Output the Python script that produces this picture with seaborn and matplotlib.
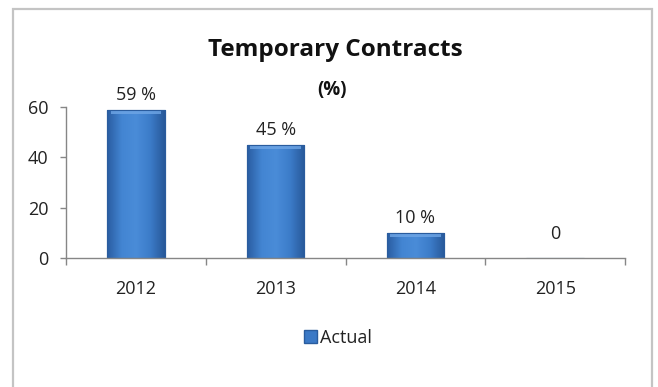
import numpy as np
import pandas as pd
import matplotlib
matplotlib.use("Agg")
import matplotlib.pyplot as plt
from matplotlib.patches import Rectangle, Patch
from matplotlib.colors import LinearSegmentedColormap
import seaborn as sns

years = ["2012", "2013", "2014", "2015"]
values = [59, 45, 10, 0]
value_labels = ["59 %", "45 %", "10 %", "0"]
series_name = "Actual"

df = pd.DataFrame({"year": years, "value": values})

sns.set_style("white")
plt.rcParams["font.family"] = ["Open Sans", "DejaVu Sans"]

fig = plt.figure(figsize=(6.58, 3.87), dpi=100)
ax = fig.add_axes([66 / 658, 1 - 258 / 387, (625 - 66) / 658, (258 - 107) / 387])

sns.barplot(data=df, x="year", y="value", ax=ax, color="#3B79C6",
            width=0.41, edgecolor="#2A5C9E", linewidth=0.8, saturation=1)

# Bevelled look: horizontal shading plus a lighter top band, clipped to each bar
side = LinearSegmentedColormap.from_list(
    "side", ["#2A5DA2", "#4385D2", "#4A8CD8", "#3C7CC9", "#28599A"])
for patch in ax.patches:
    x0, y0 = patch.get_x(), patch.get_y()
    w, h = patch.get_width(), patch.get_height()
    if h <= 0:
        continue
    grad = np.linspace(0, 1, 64).reshape(1, -1)
    im = ax.imshow(grad, cmap=side, aspect="auto", extent=[x0, x0 + w, y0, y0 + h],
                   zorder=patch.get_zorder() + 0.1, interpolation="bilinear")
    im.set_clip_path(patch)
    top = min(1.6, h * 0.3)
    ax.add_patch(Rectangle((x0 + w * 0.06, y0 + h - top), w * 0.88, top,
                           facecolor="#6FA6E6", edgecolor="none", alpha=0.8,
                           zorder=patch.get_zorder() + 0.2))
    ax.add_patch(Rectangle((x0, y0), w, h, facecolor="none", edgecolor="#2A5C9E",
                           linewidth=0.8, zorder=patch.get_zorder() + 0.3))

ax.set_xlim(-0.5, 3.5)
ax.set_ylim(0, 60)
ax.set_yticks([0, 20, 40, 60])
ax.set_xlabel("")
ax.set_ylabel("")

for i, (v, lab) in enumerate(zip(values, value_labels)):
    offset = 4 if v > 0 else 11
    ax.annotate(lab, (i, v), xytext=(0, offset), textcoords="offset points",
                ha="center", va="bottom", fontsize=13, color="#222222")

for s in ["top", "right"]:
    ax.spines[s].set_visible(False)
for s in ["left", "bottom"]:
    ax.spines[s].set_color("#868686")
    ax.spines[s].set_linewidth(1.0)

ax.tick_params(axis="y", which="both", left=True, length=4.5, width=1,
               color="#868686", labelsize=13, labelcolor="#222222", pad=8)
ax.tick_params(axis="x", which="major", bottom=False, labelsize=13,
               labelcolor="#222222", pad=12)
ax.set_xticks([-0.5, 0.5, 1.5, 2.5, 3.5], minor=True)
ax.tick_params(axis="x", which="minor", bottom=True, length=5, width=1,
               color="#868686", direction="out")

fig.text(335 / 658, 1 - 50 / 387, "Temporary Contracts", ha="center", va="center",
         fontsize=17.5, fontweight="bold", color="#111111")
fig.text(332 / 658, 1 - 90 / 387, "(%)", ha="center", va="center",
         fontsize=13.5, fontweight="bold", color="#111111")

handle = Patch(facecolor="#3B79C6", edgecolor="#2A5C9E")
fig.legend([handle], [series_name], loc="center", bbox_to_anchor=(338 / 658, 1 - 338 / 387),
           frameon=False, fontsize=13, handlelength=0.75, handleheight=0.75,
           handletextpad=0.15, labelcolor="#222222")

fig.add_artist(Rectangle((13 / 658, -0.05), (652 - 13) / 658, 1.05 - 9 / 387,
                         transform=fig.transFigure, facecolor="none",
                         edgecolor="#C4C4C4", linewidth=1.6))

fig.savefig("out.png", dpi=100)
